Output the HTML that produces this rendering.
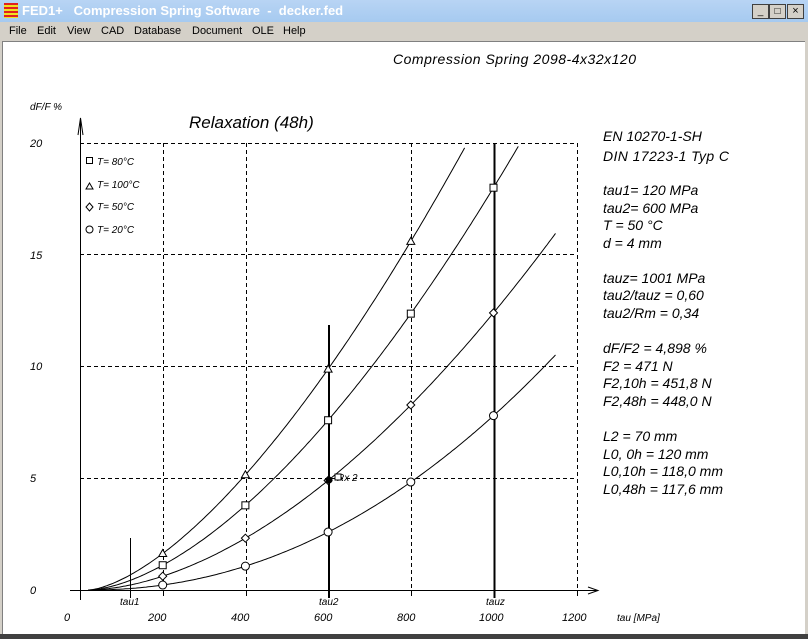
<!DOCTYPE html>
<html><head><meta charset="utf-8"><style>
body{margin:0;width:808px;height:639px;overflow:hidden;background:#d4d0c8;font-family:"Liberation Sans",sans-serif}
#title{position:absolute;left:0;top:0;width:808px;height:22px;background:linear-gradient(#b8d4f4,#a6caf0);}
#title span{position:absolute;left:22px;top:3px;font:bold 13px "Liberation Sans",sans-serif;color:#fff}
#menu{position:absolute;left:0;top:22px;width:808px;height:19px;font-size:11px;color:#000}
#menu span{position:absolute;top:3px}
#client{position:absolute;left:2px;top:41px;width:802px;height:592px;background:#fff;border-top:1px solid #808080;border-left:1px solid #808080}
#bottom{position:absolute;left:0;top:634px;width:808px;height:5px;background:#404040}
</style></head><body>
<div id="title"><div style="position:absolute;left:4px;top:3px;width:14px;height:15px;background:repeating-linear-gradient(#e02020 0 2px,#f0e020 2px 4px)"></div><span>FED1+&nbsp;&nbsp; Compression Spring Software&nbsp; -&nbsp; decker.fed</span>
<div style="position:absolute;left:752px;top:4px;width:15px;height:13px;background:#d4d0c8;border:1px solid #404040;font-size:10px;text-align:center;line-height:13px">_</div>
<div style="position:absolute;left:769px;top:4px;width:15px;height:13px;background:#d4d0c8;border:1px solid #404040;font-size:10px;text-align:center;line-height:13px">□</div>
<div style="position:absolute;left:787px;top:4px;width:15px;height:13px;background:#d4d0c8;border:1px solid #404040;font-size:11px;text-align:center;line-height:13px">×</div></div>
<div id="menu"><span style="left:9px">File</span><span style="left:37px">Edit</span><span style="left:67px">View</span><span style="left:101px">CAD</span><span style="left:134px">Database</span><span style="left:192px">Document</span><span style="left:252px">OLE</span><span style="left:283px">Help</span></div>
<div id="client"></div>
<div id="bottom"></div>
<svg id="s" width="808" height="639" style="position:absolute;left:0;top:0" font-family="Liberation Sans, sans-serif" font-style="italic">
<text x="393" y="64" font-size="14" textLength="243">Compression Spring  2098-4x32x120</text>
<text x="189" y="128" font-size="17">Relaxation (48h)</text>
<text x="30" y="110" font-size="10">dF/F %</text>
<g font-size="11"><text x="30" y="147">20</text><text x="30" y="259">15</text><text x="30" y="370">10</text><text x="30" y="482">5</text><text x="30" y="594">0</text>
<text x="64" y="621">0</text><text x="148" y="621">200</text><text x="231" y="621">400</text><text x="314" y="621">600</text><text x="397" y="621">800</text><text x="479" y="621">1000</text><text x="562" y="621">1200</text></g>
<g font-size="10"><text x="120" y="605">tau1</text><text x="319" y="605">tau2</text><text x="486" y="605">tauz</text><text x="617" y="621">tau [MPa]</text><text x="337" y="481">Rx 2</text></g>
<g font-size="10"><text x="97" y="165">T= 80°C</text><text x="97" y="188">T= 100°C</text><text x="97" y="210">T= 50°C</text><text x="97" y="233">T= 20°C</text></g>
<g font-size="14"><text x="603" y="141">EN 10270-1-SH</text><text x="603" y="161" textLength="126">DIN 17223-1 Typ C</text>
<text x="603" y="195">tau1=  120 MPa</text><text x="603" y="213">tau2=  600 MPa</text><text x="603" y="230">T = 50 °C</text><text x="603" y="248">d = 4 mm</text>
<text x="603" y="283">tauz= 1001 MPa</text><text x="603" y="300">tau2/tauz = 0,60</text><text x="603" y="318">tau2/Rm = 0,34</text>
<text x="603" y="353">dF/F2 = 4,898 %</text><text x="603" y="371">F2 = 471 N</text><text x="603" y="388">F2,10h = 451,8 N</text><text x="603" y="406">F2,48h = 448,0 N</text>
<text x="603" y="441">L2 = 70 mm</text><text x="603" y="459">L0, 0h = 120 mm</text><text x="603" y="476">L0,10h = 118,0 mm</text><text x="603" y="494">L0,48h = 117,6 mm</text></g>
<g stroke="#000" fill="none" stroke-width="1" stroke-dasharray="4,3">
<line x1="80" y1="143.5" x2="577" y2="143.5"/><line x1="80" y1="254.5" x2="577" y2="254.5"/><line x1="80" y1="366.5" x2="577" y2="366.5"/><line x1="80" y1="478.5" x2="577" y2="478.5"/>
<line x1="163.5" y1="143" x2="163.5" y2="590"/><line x1="246.5" y1="143" x2="246.5" y2="590"/><line x1="411.5" y1="143" x2="411.5" y2="590"/><line x1="577.5" y1="143" x2="577.5" y2="590"/>
</g>
<g stroke="#000" fill="none">
<line x1="80.5" y1="118" x2="80.5" y2="600"/><line x1="70" y1="590.5" x2="598" y2="590.5"/>
<path d="M78 135 L80.5 118 L83 135"/><path d="M588 587 L598 590.5 L588 594"/>
<line x1="130.5" y1="538" x2="130.5" y2="598"/>
<line x1="329" y1="325" x2="329" y2="598" stroke-width="2"/>
<line x1="494.5" y1="143" x2="494.5" y2="598" stroke-width="2"/>
<line x1="163.5" y1="590" x2="163.5" y2="596"/><line x1="246.5" y1="590" x2="246.5" y2="596"/><line x1="411.5" y1="590" x2="411.5" y2="596"/><line x1="577.5" y1="590" x2="577.5" y2="596"/>
<rect x="86.5" y="157.5" width="6" height="6"/><path d="M86 189 L89.5 183 L93 189Z"/><path d="M89.5 203 L93 207 L89.5 211 L86 207Z"/><circle cx="89.5" cy="229.5" r="3.5"/>
</g>
<g id="curves" stroke="#000" fill="none"></g>
</svg>
<script>
var X=t=>80+t*0.4135, Y=v=>590-v*22.35;
var series=[[15.6,780,1.54,933,'t'],[18.0,980,1.645,1062,'s'],[12.4,980,1.77,1150,'d'],[7.8,980,2.1,1150,'c']];
var g=document.getElementById('curves'),h='';
series.forEach(function(s){var d='';for(var t=20;t<=s[3];t+=5){var v=s[0]*Math.pow((t-20)/s[1],s[2]);d+=(d?'L':'M')+X(t).toFixed(1)+' '+Y(v).toFixed(1);}
h+='<path d="'+d+'"/>';
[200,400,600,800,1000].forEach(function(t){if(t>s[3])return;var v=s[0]*Math.pow((t-20)/s[1],s[2]);var x=X(t),y=Y(v);
if(s[4]=='s')h+='<rect x="'+(x-3.5)+'" y="'+(y-3.5)+'" width="7" height="7" fill="#fff"/>';
if(s[4]=='t')h+='<path d="M'+(x-4)+' '+(y+3)+' L'+x+' '+(y-4)+' L'+(x+4)+' '+(y+3)+'Z" fill="#fff"/>';
if(s[4]=='d')h+='<path d="M'+x+' '+(y-4)+' L'+(x+4)+' '+y+' L'+x+' '+(y+4)+' L'+(x-4)+' '+y+'Z" fill="#fff"/>';
if(s[4]=='c')h+='<circle cx="'+x+'" cy="'+y+'" r="4" fill="#fff"/>';});});
h+='<circle cx="329" cy="480" r="3" fill="#000"/><rect x="335" y="474" width="6" height="6" fill="#fff"/>';
g.innerHTML=h;
</script>
</body></html>
